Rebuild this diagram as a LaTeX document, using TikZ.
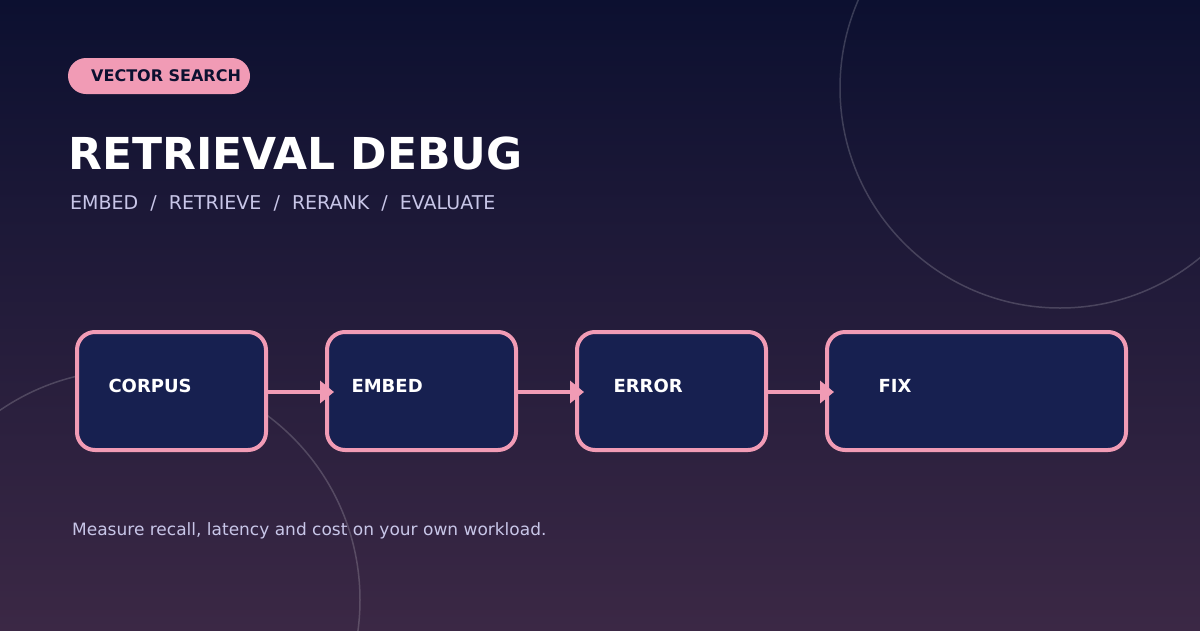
\documentclass[tikz,border=0pt]{standalone}
\usepackage{fontspec}
\setmainfont{DejaVu Sans}
\usetikzlibrary{positioning,arrows.meta}
\definecolor{bgtop}{HTML}{0C1030}
\definecolor{bgbot}{HTML}{3B2845}
\definecolor{pinkline}{HTML}{F19BB5}
\definecolor{boxfill}{HTML}{172050}
\definecolor{softtext}{HTML}{C8C6E8}
\tikzset{
  stage/.style={draw=pinkline, line width=4pt, fill=boxfill, rounded corners=18pt,
    minimum height=118pt, anchor=north west},
  stagelabel/.style={text=white, font=\bfseries\fontsize{18}{18}\selectfont, anchor=west},
  flow/.style={draw=pinkline, line width=4pt, -{Triangle[length=14pt,width=22pt]}}
}
\begin{document}
\begin{tikzpicture}[x=1pt,y=-1pt]
  \useasboundingbox (0,0) rectangle (1200,630);
  \shade[top color=bgtop, bottom color=bgbot] (0,0) rectangle (1200,630);
  \begin{scope}
    \clip (0,0) rectangle (1200,630);
    \draw[white, opacity=0.18, line width=1.5pt] (1060,88) circle (220);
    \draw[white, opacity=0.18, line width=1.5pt] (130,600) circle (230);
  \end{scope}

  % header
  \fill[pinkline, rounded corners=18pt] (68,58) rectangle (250,94);
  \node[anchor=west, text=bgtop, font=\bfseries\fontsize{16}{16}\selectfont, inner sep=0] (tag) at (91,76) {VECTOR SEARCH};
  \node[anchor=base west, text=white, font=\bfseries\fontsize{44}{44}\selectfont, inner sep=0] (title) at (68,169) {RETRIEVAL DEBUG};
  \node[anchor=base west, text=softtext, font=\fontsize{19}{19}\selectfont, inner sep=0] (sub) at (70,209) {EMBED\ \ /\ \ RETRIEVE\ \ /\ \ RERANK\ \ /\ \ EVALUATE};

  % pipeline
  \node[stage, minimum width=189pt] (corpus) at (75,330) {};
  \node[stage, minimum width=189pt] (embed) at (325,330) {};
  \node[stage, minimum width=189pt] (error) at (575,330) {};
  \node[stage, minimum width=299pt] (fix) at (825,330) {};
  \node[stagelabel] (corpuslbl) at (105,386) {CORPUS};
  \node[stagelabel] (embedlbl) at (348,386) {EMBED};
  \node[stagelabel] (errorlbl) at (610,386) {ERROR};
  \node[stagelabel] (fixlbl) at (875,386) {FIX};
  \draw[flow] ([yshift=-1pt]corpus.east) -- ([xshift=9pt,yshift=-1pt]embed.west);
  \draw[flow] ([yshift=-1pt]embed.east) -- ([xshift=9pt,yshift=-1pt]error.west);
  \draw[flow] ([yshift=-1pt]error.east) -- ([xshift=9pt,yshift=-1pt]fix.west);

  \node[anchor=base west, text=softtext, font=\fontsize{17}{17}\selectfont, inner sep=0] (note) at (72,535) {Measure recall, latency and cost on your own workload.};
\end{tikzpicture}
\end{document}
